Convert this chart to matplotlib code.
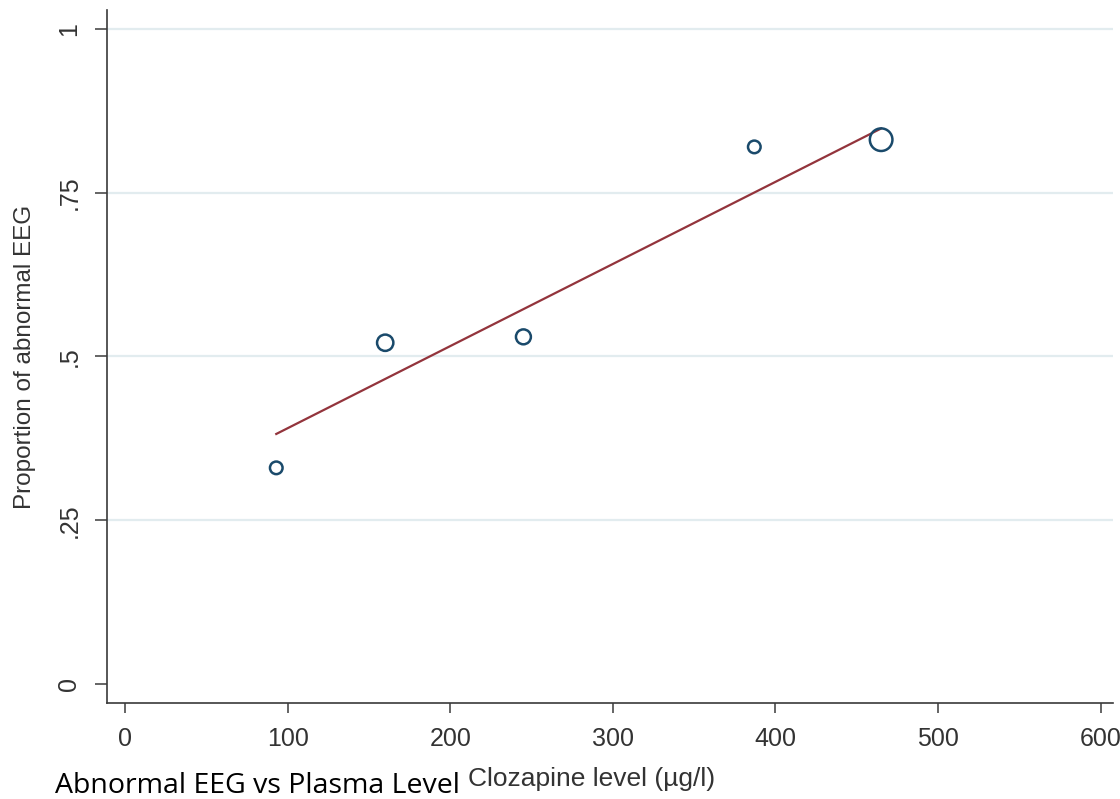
import numpy as np
import matplotlib
matplotlib.use("Agg")
import matplotlib.pyplot as plt
from matplotlib import font_manager


# group means
clozapine_level = np.array([93, 160, 245, 387, 465])
prop_abnormal = np.array([0.33, 0.521, 0.53, 0.82, 0.831])
# group sizes (marker area ~ weight)
n_patients = np.array([9, 14, 12, 9, 25])

xticks = [0, 100, 200, 300, 400, 500, 600]
yticks = [0, 0.25, 0.5, 0.75, 1]
ytick_labels = ['0', '.25', '.5', '.75', '1']
grid_levels = [0.25, 0.5, 0.75, 1]


def pick_font(names):
    for name in names:
        try:
            font_manager.findfont(name, fallback_to_default=False)
            return name
        except Exception:
            pass
    return 'DejaVu Sans'


tick_font = pick_font(['Liberation Sans'])
label_font = pick_font(['Liberation Sans'])
title_font = pick_font(['Open Sans', 'Lato'])
tick_size = 18

marker_color = '#1a4a6b'
line_color = '#93343c'
grid_color = '#e2ecef'
axis_color = '#3a3a3a'

fig = plt.figure(figsize=(11.2, 7.99), dpi=100)
ax = fig.add_axes([107 / 1120, 1 - 703 / 799, (1113 - 107) / 1120, (703 - 10) / 799])

# weighted linear fit (analytic weights)
coef = np.polyfit(clozapine_level, prop_abnormal, 1, w=np.sqrt(n_patients))
fit_x = np.array([clozapine_level.min(), clozapine_level.max()])
fit_y = np.polyval(coef, fit_x)

for g in grid_levels:
    ax.axhline(g, color=grid_color, lw=1.6, zorder=0)

diam_px = np.sqrt(n_patients) * 5.0
sizes = ((diam_px - 2.4) * 0.72) ** 2
ax.scatter(clozapine_level, prop_abnormal, s=sizes, facecolors='none',
           edgecolors=marker_color, linewidths=1.8, zorder=3)
ax.plot(fit_x, fit_y, color=line_color, lw=1.6, zorder=2)

ax.set_xlim(-11.1, 607.6)
ax.set_ylim(-0.029, 1.029)

for side in ['top', 'right']:
    ax.spines[side].set_visible(False)
for side in ['left', 'bottom']:
    ax.spines[side].set_color(axis_color)
    ax.spines[side].set_linewidth(1.2)

ax.set_xticks(xticks)
ax.set_xticklabels([str(v) for v in xticks], fontfamily=tick_font,
                   fontsize=tick_size, color='#333333')
ax.set_yticks(yticks)
ax.set_yticklabels(ytick_labels, fontfamily=tick_font, fontsize=tick_size,
                   color='#333333', rotation=90, va='center')
ax.tick_params(axis='x', length=7.2, width=1.1, color=axis_color, pad=10)
ax.tick_params(axis='y', length=8.5, width=1.1, color=axis_color, pad=10)

ax.set_ylabel('Proportion of abnormal EEG', fontfamily=label_font,
              fontsize=17.5, color='#333333')
ax.yaxis.set_label_coords(-0.071, 0.5)
ax.set_xlabel('Clozapine level (\u00b5g/l)', fontfamily=label_font,
              fontsize=19, color='#333333')
ax.xaxis.set_label_coords((592 - 107) / 1006, -0.093)

fig.text(55 / 1120, 1 - 793 / 799, 'Abnormal EEG vs Plasma Level',
         fontfamily=title_font, fontsize=20.5, color='black', va='baseline')

fig.savefig('out.png', dpi=100)
